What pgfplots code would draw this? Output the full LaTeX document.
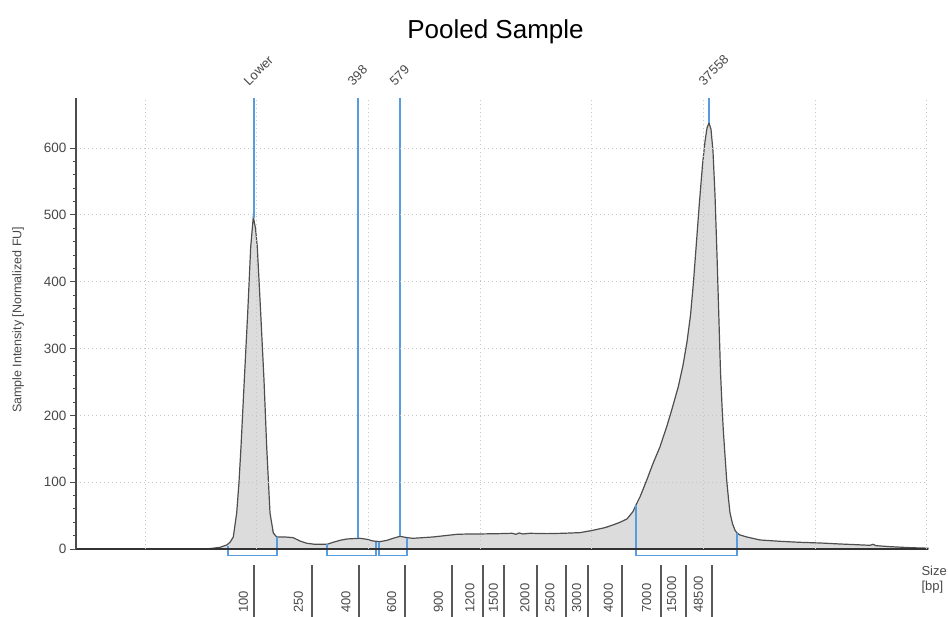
\documentclass[border=0pt]{standalone}
\usepackage{fontspec}
\setmainfont{Liberation Sans}
\usepackage{pgfplots}
\usepackage{pgfplotstable}
\pgfplotsset{compat=1.18}
\definecolor{mk}{RGB}{86,156,222}
\definecolor{fl}{RGB}{220,220,220}
\definecolor{ln}{RGB}{78,78,78}
\definecolor{tx}{RGB}{72,72,72}

% trace: x = position along the gel (px), y = normalized FU
\pgfplotstableread{
x y
76 0
205 0
212 1
220 2.5
226.7 6
230 10
233.3 18
236.7 54
239 100
241 153
244.3 253
247.7 353
250.7 452
253.3 497
255.5 480
257.3 452
260.7 353
264 253
266.7 153
270 54
273.3 24
276.7 18
285 18
293 17
300 12
307 8.5
315 7
327 7
333 10
340 13
347 15
353 15.5
360 16
367 14.5
373 12
380 11
387 13
393 16
400 19
407 17
413 16
423 17
433 18
445 20
457 22
470 22.5
480 22.5
500 23
512 23.5
516 22
519 24
523 22.5
530 23.5
547 23
563 23.5
580 24.5
593 28
605 32
613 36
620 40
627 45
633 56
636 66
640 78
646.7 103
653 128
660 153
666.7 183
671.7 208
678.3 243
683 275
687 310
690.5 350
693.5 400
696.5 460
699.5 520
702.5 575
705 610
707 630
709 638
711 628
713 595
715 530
717 440
719 340
720.5 265
722 215
723.3 178
725 140
726.7 103
728.5 75
730 54
732.5 38
735 28
737 24
740 21
746.7 18
760 13.5
780 11.5
800 10
820 9
840 7.5
863 6
870 5.5
873 7
876 5
890 3.5
910 2
928 1.2
}\trace

\begin{document}
\begin{tikzpicture}
\useasboundingbox (0,0) rectangle (948pt,616pt);
\begin{axis}[
    at={(76pt,67pt)}, anchor=south west,
    scale only axis, width=852pt, height=451pt,
    xmin=76, xmax=928, ymin=0, ymax=675,
    clip=false, axis on top,
    axis lines=left, axis line style={-},
    x axis line style={line width=2.4pt, color=black!80},
    y axis line style={line width=1.1pt, color=black!70},
    xtick={243.3,298.3,346,391.7,438.3,470,493.3,525,550,576.7,608.3,646.7,671.7,698.3},
    xticklabels={100,250,400,600,900,1200,1500,2000,2500,3000,4000,7000,15000,48500},
    xticklabel style={rotate=90, anchor=west, font=\fontsize{13}{15}\selectfont, text=tx},
    xticklabel shift=61pt,
    x tick style={draw=none},
    extra x ticks={145,256.7,368.4,480.1,591.8,703.5,815.2,926.9},
    extra x tick labels={},
    extra x tick style={grid=major, major tick length=0pt},
    ytick={0,100,...,600},
    minor y tick num=4,
    ymajorgrids,
    grid style={gray!45, line width=0.9pt, dash pattern=on 1pt off 3pt},
    tick align=outside,
    y tick style={black!70, line width=0.9pt},
    major tick length=6pt, minor tick length=3pt,
    yticklabel style={font=\fontsize{13.5}{16}\selectfont, text=tx},
    /pgf/number format/assume math mode=true,
    ylabel={Sample Intensity [Normalized FU]},
    ylabel style={at={(axis description cs:-0.068,0.508)}, anchor=center,
        font=\fontsize{12.5}{14}\selectfont, text=tx},
]
\addplot[draw=ln, line width=1.2pt, fill=fl] table[x=x, y=y] {\trace} \closedcycle;

% marker lines
\addplot[mk, line width=1.6pt] coordinates {(254,675) (254,495)};
\addplot[mk, line width=1.6pt] coordinates {(358,675) (358,16)};
\addplot[mk, line width=1.6pt] coordinates {(400,675) (400,19)};
\addplot[mk, line width=1.6pt] coordinates {(709,675) (709,638)};

% region brackets
\addplot[mk, line width=1.3pt] coordinates {(228,5) (228,-10) (277,-10) (277,18)};
\addplot[mk, line width=1.3pt] coordinates {(327,7) (327,-10) (376,-10) (376,11)};
\addplot[mk, line width=1.3pt] coordinates {(379,11) (379,-10) (407,-10) (407,17)};
\addplot[mk, line width=1.3pt] coordinates {(636,66) (636,-10) (737,-10) (737,24)};

% size ladder tick lines
\pgfplotsinvokeforeach{254.3,311.7,359.3,405,452.3,482.7,504.3,536.7,565.7,588.3,621.7,660.7,686,712.3}{
    \draw[black!65, line width=1.8pt] (axis cs:#1,-24) -- (axis cs:#1,-110);
}

\begin{scope}[font=\fontsize{13}{15}\selectfont, text=tx]
\node[rotate=45, anchor=base west] at (axis cs:246.5,689) {Lower};
\node[rotate=45, anchor=base west] at (axis cs:350.5,689) {398};
\node[rotate=45, anchor=base west] at (axis cs:392.5,689) {579};
\node[rotate=45, anchor=base west] at (axis cs:701.5,689) {37558};
\node[anchor=west, align=left] at (axis cs:918,-46) {Size\\{[bp]}};
\end{scope}
\end{axis}
\node[font=\fontsize{26}{30}\selectfont, anchor=base] at (495.5pt,577.7pt) {Pooled Sample};
\end{tikzpicture}
\end{document}
